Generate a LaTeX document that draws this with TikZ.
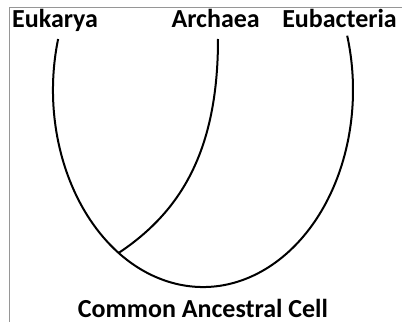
\documentclass[tikz,border=0pt]{standalone}
\usepackage{fontspec}
\setmainfont{Carlito}
\begin{document}
\begin{tikzpicture}[x=1pt,y=1pt,
  lbl/.style={font=\bfseries\fontsize{26}{30}\selectfont, inner sep=0pt},
  frameline/.style={draw={rgb,255:red,150;green,150;blue,150}, line width=0.8pt},
  branch/.style={draw=black, line width=2pt}]
\useasboundingbox (0,0) rectangle (402,322);
% frame
\coordinate (fTR) at (402,315);
\coordinate (fTL) at (9,315);
\coordinate (fBL) at (9,0);
\draw[frameline] (fTR) -- (fTL) -- (fBL);
% labels
\node[lbl, anchor=base west] (euk) at (12,294) {Eukarya};
\node[lbl, anchor=base east] (arc) at (260,294) {Archaea};
\node[lbl, anchor=base east] (eub) at (397,294) {Eubacteria};
\node[lbl, text depth=0pt, anchor=base] (cac) at (203,4.5) {Common Ancestral Cell};
% tree
\coordinate (junction) at ({203+150*cos(235.8)},{232+197*sin(235.8)});
\coordinate (archtop) at (218,283);
\draw[branch] ({203+150*cos(165)},{232+197*sin(165)}) arc[start angle=165, end angle=376, x radius=150, y radius=197];
\draw[branch] (archtop) .. controls (218,170) and (180,110) .. (junction);
\end{tikzpicture}
\end{document}
